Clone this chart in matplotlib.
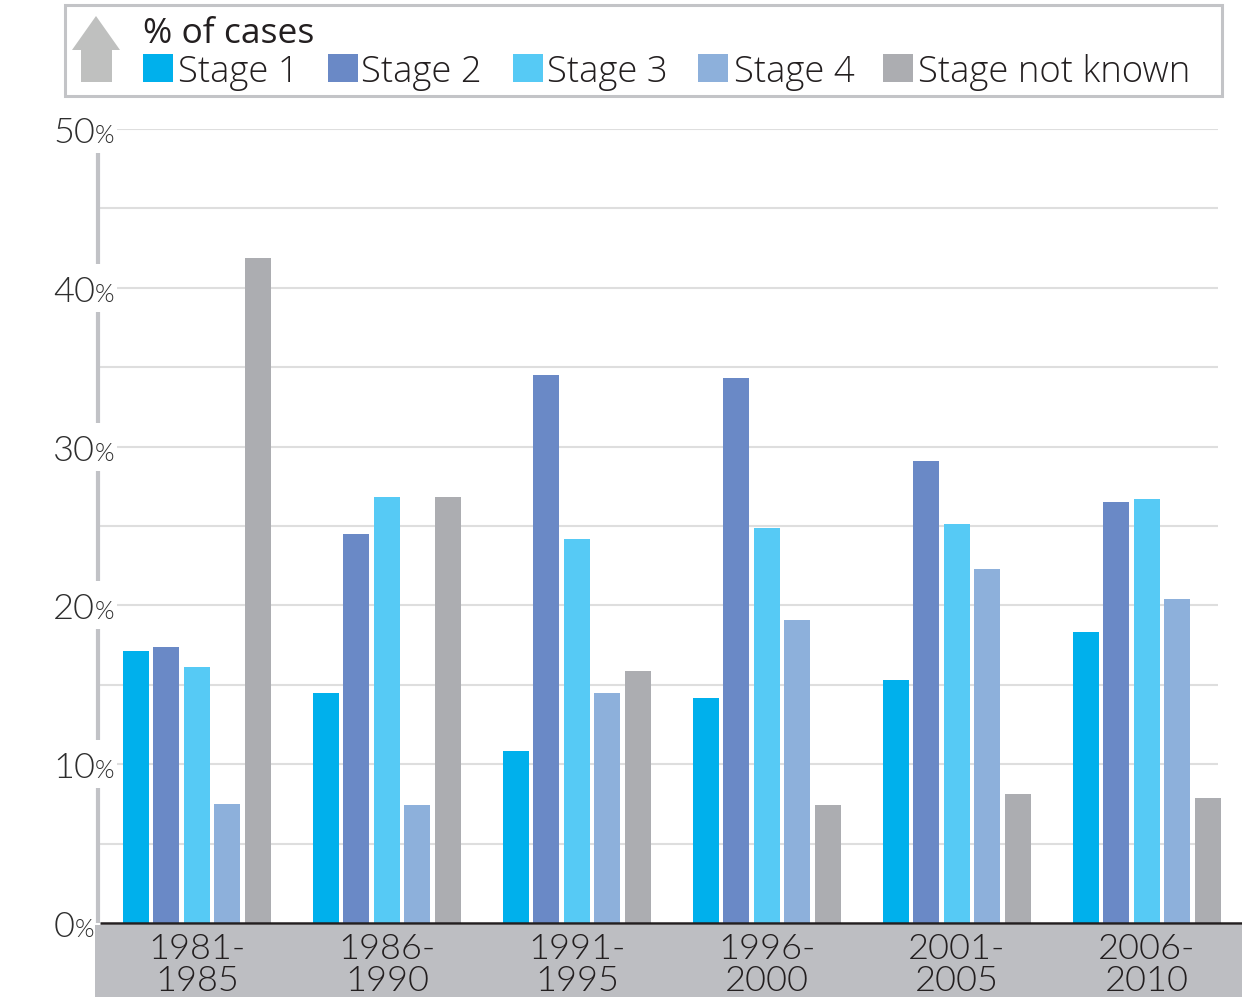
import matplotlib
matplotlib.use("Agg")
import matplotlib.pyplot as plt
from matplotlib.patches import Rectangle, Polygon

periods = ["1981-\n1985", "1986-\n1990", "1991-\n1995", "1996-\n2000", "2001-\n2005", "2006-\n2010"]
series_names = ["Stage 1", "Stage 2", "Stage 3", "Stage 4", "Stage not known"]
stage1 = [17.1, 14.5, 10.8, 14.2, 15.3, 18.3]
stage2 = [17.4, 24.5, 34.5, 34.3, 29.1, 26.5]
stage3 = [16.1, 26.8, 24.2, 24.9, 25.1, 26.7]
stage4 = [7.5, 7.4, 14.5, 19.1, 22.3, 20.4]
unknown = [41.9, 26.8, 15.9, 7.4, 8.1, 7.9]
yticks = [0, 10, 20, 30, 40, 50]
colors = ["#00b0ec", "#6a89c6", "#56caf5", "#8db0db", "#acadb1"]

FONT = "Lato"
LFONT = "Open Sans"
TXT = "#231f20"
W, H = 1242, 997
fig = plt.figure(figsize=(W / 100, H / 100), dpi=100)

def F(x, y):
    return (x / W, 1 - y / H)

ax = fig.add_axes([0, (H - 923) / H, 1, (923 - 129) / H])
ax.set_facecolor("none")
GC, GS = 197.0, 190.0
def X(px):
    return (px - GC) / GS
PPU = (923 - 129) / 50.0
def Y(py):
    return (923 - py) / PPU
ax.set_xlim(X(0), X(W))
ax.set_ylim(0, 50)
ax.axis("off")

for v in range(5, 55, 5):
    ax.hlines(v, X(100), X(1218), color="#dedede", lw=1.5, zorder=1)
ax.vlines(X(98), 0, 50, color="#c1c2c6", lw=3, zorder=1)

all_series = [stage1, stage2, stage3, stage4, unknown]
step = 30.5 / GS
bw = 26 / GS
for k, vals in enumerate(all_series):
    xs = [i + (k - 2) * step for i in range(len(periods))]
    ax.bar(xs, vals, width=bw, color=colors[k], zorder=3, linewidth=0)

ax.hlines(0, X(100), X(W), color=TXT, lw=1.8, zorder=4, clip_on=False)

for v in yticks:
    if v == 0:
        rx = 75
    else:
        rx = 95
        ax.add_patch(Rectangle((X(40), v - 24 / PPU), X(117) - X(40), 48 / PPU,
                               facecolor="white", edgecolor="none", zorder=2, clip_on=False))
    yb = v - 14 / PPU
    ax.text(X(rx), yb, str(v), ha="right", va="baseline", fontsize=26,
            family=FONT, fontweight=300, color="#2e2e2e", zorder=5, clip_on=False)
    ax.text(X(rx), yb, "%", ha="left", va="baseline", fontsize=18,
            family=FONT, fontweight=300, color="#2e2e2e", zorder=5, clip_on=False)

# gray band under the axis
ax.add_patch(Rectangle((X(95), Y(997)), X(W) - X(95), Y(925) - Y(997),
                       facecolor="#bdbec2", edgecolor="none", zorder=0, clip_on=False))
for i, lab in enumerate(periods):
    ax.text(i, Y(965), lab, ha="center", va="center", fontsize=26, family=FONT,
            fontweight=300, color=TXT, linespacing=1.0, clip_on=False, zorder=5)

# legend box
fig.patches.append(Rectangle(F(65, 96), (1222 - 65) / W, (96 - 5) / H,
                             transform=fig.transFigure, facecolor="white",
                             edgecolor="#c3c4c7", lw=2.2, zorder=1))
arrow_pts = [F(96, 16), F(120, 50), F(112, 50), F(112, 82), F(81, 82), F(81, 50), F(72, 50)]
fig.patches.append(Polygon(arrow_pts, closed=True, transform=fig.transFigure,
                           facecolor="#bfc0bf", edgecolor="none", zorder=2))
fig.text(*F(143, 43), "% of cases", ha="left", va="baseline", fontsize=25.5,
         family=LFONT, fontweight="normal", color=TXT, zorder=3)
sq_x = [143, 328, 513, 698, 883]
tx_x = [178, 361, 547, 734, 918]
for k, name in enumerate(series_names):
    fig.patches.append(Rectangle(F(sq_x[k], 82), 30 / W, 28 / H, transform=fig.transFigure,
                                 facecolor=colors[k], edgecolor="none", zorder=2))
    fig.text(*F(tx_x[k], 82), name, ha="left", va="baseline", fontsize=26.3,
             family=LFONT, fontweight=300, color=TXT, zorder=3)

fig.savefig("out.png", dpi=100)
